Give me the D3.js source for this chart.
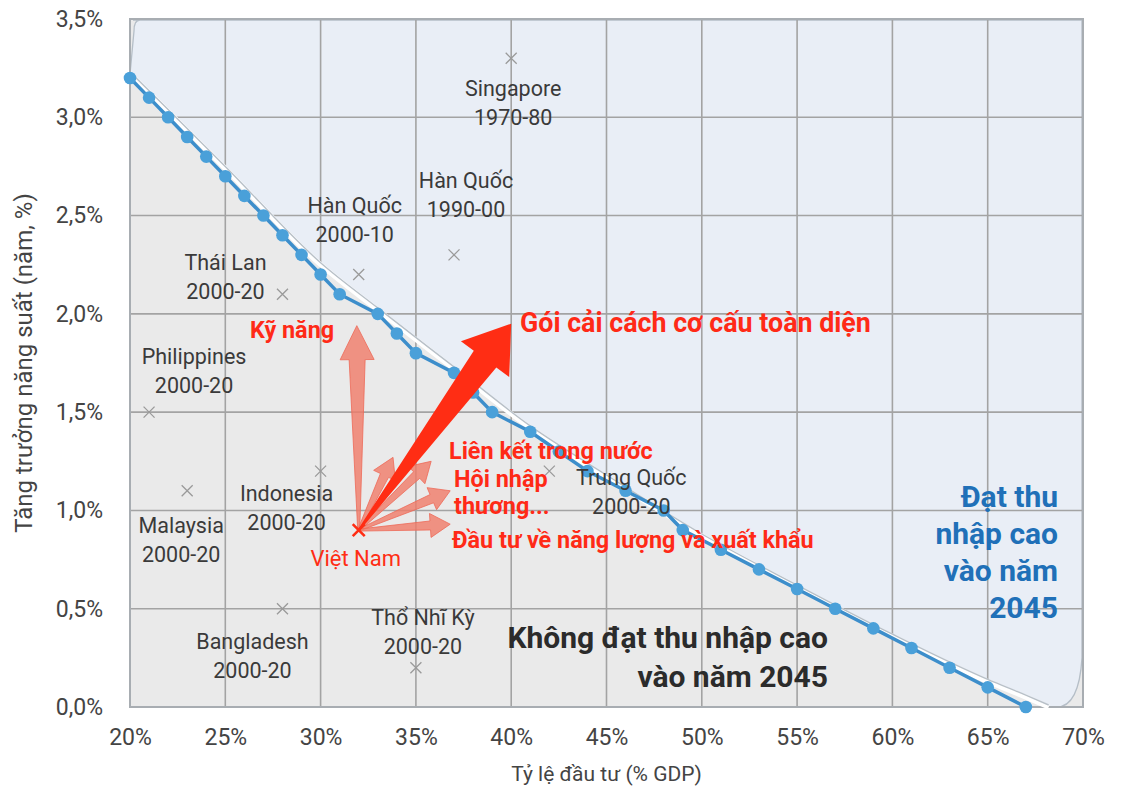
<!DOCTYPE html>
<html>
<head>
<meta charset="utf-8">
<script src="https://cdn.jsdelivr.net/npm/d3@7"></script>
<style>
  body { margin: 0; background: #fff; }
  svg text { font-family: Roboto, "Noto Sans", sans-serif; }
</style>
</head>
<body>
<div id="g"></div>
<script>
// curve: investment (% GDP) vs productivity growth needed
const invest = [20,21,22,23,24,25,26,27,28,29,30,31,33,34,35,37,38,39,41,42.5,44,46,48,49,51,53,55,57,59,61,63,65,67];
const growth = [3.2,3.1,3.0,2.9,2.8,2.7,2.6,2.5,2.4,2.3,2.2,2.1,2.0,1.9,1.8,1.7,1.6,1.5,1.4,1.3,1.2,1.1,1.0,0.9,0.8,0.7,0.6,0.5,0.4,0.3,0.2,0.1,0.0];

// boundary of the "high income" zone
const frontierX = [20,22,25,30,33,37,41,45,50,55,60,65,67,68.2];
const frontierY = [3.22,3.03,2.74,2.25,2.02,1.72,1.42,1.17,0.87,0.61,0.36,0.13,0.05,0.0];

const countries = ["Singapore","Hàn Quốc","Hàn Quốc","Thái Lan","Philippines","Malaysia","Indonesia","Bangladesh","Thổ Nhĩ Kỳ","Trung Quốc"];
const periods = ["1970-80","1990-00","2000-10","2000-20","2000-20","2000-20","2000-20","2000-20","2000-20","2000-20"];
const countryX = [40,37,32,28,21,23,30,28,35,42];
const countryY = [3.3,2.3,2.2,2.1,1.5,1.1,1.2,0.5,0.2,1.2];
// label offset (px) from the marker
const labelOff = [[2,38],[12,-67],[-4,-62],[-57,-24],[45,-48],[-6,42],[-34,30],[-30,40],[7,-43],[82,14]];

const vnName = "Việt Nam";
const vnX = 32, vnY = 0.9;

// reform arrows (tips, in chart units)
const reformX = [31.9,33.8,35.8,36.8,36.8];
const reformY = [1.94,1.27,1.25,1.10,0.93];
const bigTipX = 40, bigTipY = 1.95;

const xTicks = [20,25,30,35,40,45,50,55,60,65,70];
const yTicks = [0,0.5,1,1.5,2,2.5,3,3.5];

const W = 1122, H = 788;
const L = 130, R = 1083, T = 19, B = 707;

const svg = d3.select('#g').append('svg')
    .attr('width', W)
    .attr('height', H);

const x = d3.scaleLinear().domain([20,70]).range([L,R]);
const y = d3.scaleLinear().domain([0,3.5]).range([B,T]);

// backgrounds
svg.append('rect')
    .attr('x', L).attr('y', T)
    .attr('width', R-L).attr('height', B-T)
    .attr('fill', '#eaeaea');

const fr = frontierX.map((v,i)=>[x(v), y(frontierY[i])]);
const lineSm = d3.line().curve(d3.curveMonotoneX);
// blue zone path: top edge, right edge, rounded bottom corner, frontier back up, left edge
let p = d3.path();
p.moveTo(L+3, T+1);
p.lineTo(R-1, T+1);
p.lineTo(R-1, y(0.25));
p.quadraticCurveTo(R-4, B, fr[fr.length-1][0]+8, B);
const back = lineSm(fr.slice().reverse());
svg.append('path')
    .attr('d', p.toString() + 'L' + back.slice(1) + `L${L+4},${T+12}Q${L+4},${T+1} ${L+10},${T+1}Z`)
    .attr('fill', '#e9eef6')
    .attr('stroke', '#b5bec7')
    .attr('stroke-width', 1.3);

// grid
const grid = svg.append('g');
grid.selectAll('.vx').data(xTicks).enter().append('line')
    .attr('x1', d=>x(d)).attr('x2', d=>x(d))
    .attr('y1', T).attr('y2', B)
    .attr('stroke', '#a3a3a3').attr('stroke-width', 1.6);
grid.selectAll('.hy').data(yTicks).enter().append('line')
    .attr('x1', L).attr('x2', R)
    .attr('y1', d=>y(d)).attr('y2', d=>y(d))
    .attr('stroke', '#a3a3a3').attr('stroke-width', 1.6);
svg.append('rect')
    .attr('x', L).attr('y', T)
    .attr('width', R-L).attr('height', B-T)
    .attr('fill', 'none')
    .attr('stroke', '#a8adb2').attr('stroke-width', 2);

// axes (labels only)
const xAxis = d3.axisBottom(x).tickValues(xTicks).tickSize(0).tickPadding(22)
    .tickFormat(d => d + '%');
const yAxis = d3.axisLeft(y).tickValues(yTicks).tickSize(0).tickPadding(27)
    .tickFormat(d => d3.format('.1f')(d).replace('.', ',') + '%');
const gx = svg.append('g').attr('transform', `translate(0,${B})`).call(xAxis);
const gy = svg.append('g').attr('transform', `translate(${L},0)`).call(yAxis);
[gx, gy].forEach(g => {
    g.select('.domain').remove();
    g.selectAll('text').attr('font-size', 23).attr('fill', '#444')
        .style('font-family', 'Roboto');
});

svg.append('text')
    .attr('x', (L+R)/2).attr('y', 781)
    .attr('text-anchor', 'middle')
    .attr('font-size', 21).attr('fill', '#444')
    .text('Tỷ lệ đầu tư (% GDP)');
svg.append('text')
    .attr('transform', `translate(32,${(T+B)/2}) rotate(-90)`)
    .attr('text-anchor', 'middle')
    .attr('font-size', 24).attr('fill', '#444')
    .text('Tăng trưởng năng suất (năm, %)');

// frontier line
svg.append('path')
    .attr('d', lineSm(fr))
    .attr('fill', 'none').attr('stroke', '#fff').attr('stroke-width', 5);
svg.append('path')
    .attr('d', lineSm(fr))
    .attr('fill', 'none').attr('stroke', '#b8c0c8').attr('stroke-width', 1.4)
    .attr('transform', 'translate(0,-2)');

// main curve
const pts = invest.map((v,i)=>({x:v, y:growth[i]}));
svg.append('path')
    .attr('d', d3.line().x(d=>x(d.x)).y(d=>y(d.y))(pts))
    .attr('fill', 'none').attr('stroke', '#3d8ecb').attr('stroke-width', 3.5);
svg.selectAll('.dot').data(pts).enter().append('circle')
    .attr('cx', d=>x(d.x)).attr('cy', d=>y(d.y))
    .attr('r', 6.3)
    .attr('fill', '#4aa0d9');

// country markers
function cross(g, cx, cy, s, col, w) {
    g.append('path')
        .attr('d', `M${cx-s},${cy-s}L${cx+s},${cy+s}M${cx-s},${cy+s}L${cx+s},${cy-s}`)
        .attr('stroke', col).attr('stroke-width', w).attr('fill', 'none');
}
const mk = svg.append('g');
countries.forEach((c,i) => {
    const cx = x(countryX[i]), cy = y(countryY[i]);
    cross(mk, cx, cy, 5.5, '#9a9a9a', 1.3);
    const t = mk.append('text')
        .attr('x', cx + labelOff[i][0]).attr('y', cy + labelOff[i][1])
        .attr('text-anchor', 'middle')
        .attr('font-size', 21.5).attr('fill', '#3a3a3a');
    t.append('tspan').text(c);
    t.append('tspan').attr('x', cx + labelOff[i][0]).attr('dy', 29).text(periods[i]);
});

// arrows
function arrow(x0, y0, x1, y1, w0, w1, hw, hl) {
    const dx = x1-x0, dy = y1-y0, len = Math.hypot(dx,dy);
    const ux = dx/len, uy = dy/len, nx = -uy, ny = ux;
    const bx = x1 - ux*hl, by = y1 - uy*hl;
    const P = [
        [x0 + nx*w0/2, y0 + ny*w0/2],
        [bx + nx*w1/2, by + ny*w1/2],
        [bx + nx*hw/2, by + ny*hw/2],
        [x1, y1],
        [bx - nx*hw/2, by - ny*hw/2],
        [bx - nx*w1/2, by - ny*w1/2],
        [x0 - nx*w0/2, y0 - ny*w0/2]
    ];
    return 'M' + P.map(q=>q.join(',')).join('L') + 'Z';
}
const vx = x(vnX), vy = y(vnY);
const ar = svg.append('g');
reformX.forEach((rx,i) => {
    const big = i === 0;
    ar.append('path')
        .attr('d', arrow(vx, vy, x(rx), y(reformY[i]), 2, big ? 16 : 9, big ? 34 : 24, big ? 34 : 20))
        .attr('fill', '#f07a68').attr('fill-opacity', 0.8)
        .attr('stroke', '#ee6a58').attr('stroke-width', 0.8);
});
ar.append('path')
    .attr('d', arrow(vx, vy, x(bigTipX), y(bigTipY), 2, 28, 60, 44))
    .attr('fill', '#ff2d14');
cross(svg, vx, vy, 6, '#ff2d14', 2.6);

svg.append('text')
    .attr('x', vx - 3).attr('y', vy + 36)
    .attr('text-anchor', 'middle')
    .attr('font-size', 22).attr('fill', '#ff2d14')
    .text(vnName);

// red annotations
const red = [
    ['Gói cải cách cơ cấu toàn diện', 520, 332, 26.8],
    ['Kỹ năng', 250, 338, 23.4],
    ['Liên kết trong nước', 449, 459, 23.4],
    ['Hội nhập', 454, 487, 23.4],
    ['thương...', 454, 514, 23.4],
    ['Đầu tư về năng lượng và xuất khẩu', 452, 548, 23.4]
];
red.forEach(r => {
    svg.append('text')
        .attr('x', r[1]).attr('y', r[2])
        .attr('font-size', r[3]).attr('font-weight', 700)
        .attr('fill', '#ff2a17')
        .text(r[0]);
});

// zone labels
const zoneNo = ['Không đạt thu nhập cao', 'vào năm 2045'];
const zoneYes = ['Đạt thu', 'nhập cao', 'vào năm', '2045'];
zoneNo.forEach((s,i) => {
    svg.append('text')
        .attr('x', 828).attr('y', 648 + i*39)
        .attr('text-anchor', 'end')
        .attr('font-size', 30).attr('font-weight', 700)
        .attr('fill', '#2b2b2b')
        .text(s);
});
zoneYes.forEach((s,i) => {
    svg.append('text')
        .attr('x', 1058).attr('y', 507 + i*37)
        .attr('text-anchor', 'end')
        .attr('font-size', 30).attr('font-weight', 700)
        .attr('fill', '#2070b8')
        .text(s);
});
</script>
</body>
</html>
